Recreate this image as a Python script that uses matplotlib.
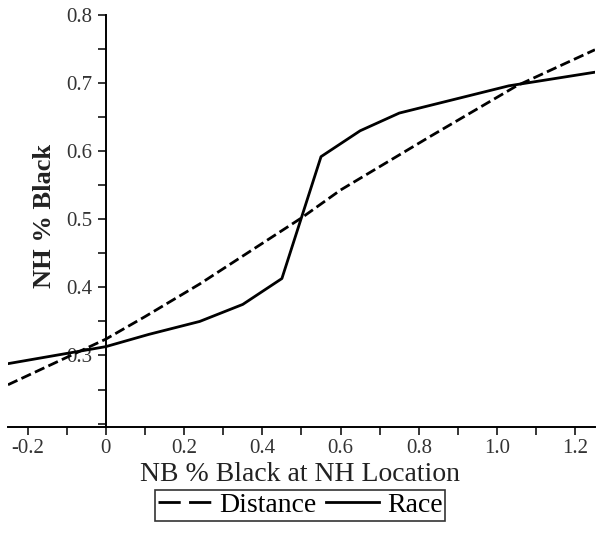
import numpy as np
import matplotlib.pyplot as plt
from matplotlib.lines import Line2D

plt.rcParams['font.family'] = ['Liberation Serif', 'DejaVu Serif']
plt.rcParams['lines.scale_dashes'] = False

# Distance curve
dist_x = [-0.25, 0.0, 0.1, 0.24, 0.5, 0.6, 0.83, 1.05, 1.25]
dist_y = [0.257, 0.324, 0.357, 0.405, 0.502, 0.543, 0.622, 0.696, 0.749]

# Race curve
race_x = [-0.25, 0.0, 0.11, 0.24, 0.35, 0.45, 0.55, 0.65, 0.75, 1.03, 1.25]
race_y = [0.288, 0.313, 0.331, 0.350, 0.375, 0.413, 0.592, 0.630, 0.656, 0.696, 0.716]

x_ticks = [-0.2, 0, 0.2, 0.4, 0.6, 0.8, 1.0, 1.2]
x_labels = ['-0.2', '0', '0.2', '0.4', '0.6', '0.8', '1.0', '1.2']
y_ticks = [0.3, 0.4, 0.5, 0.6, 0.7, 0.8]
y_labels = ['0.3', '0.4', '0.5', '0.6', '0.7', '0.8']

fig = plt.figure(figsize=(6.04, 5.34), dpi=100)
ax = fig.add_axes([0.0132, 0.2004, 0.9718, 0.7715])

ax.plot(dist_x, dist_y, color='black', lw=2.0, dashes=(7.5, 3.2))
ax.plot(race_x, race_y, color='black', lw=2.0)

ax.set_xlim(-0.25, 1.25)
ax.set_ylim(0.195, 0.8)

ax.spines['top'].set_visible(False)
ax.spines['right'].set_visible(False)
ax.spines['left'].set_position(('data', 0))
ax.spines['left'].set_linewidth(1.4)
ax.spines['bottom'].set_linewidth(1.4)

ax.set_xticks(x_ticks)
ax.set_xticklabels(x_labels)
ax.set_xticks(np.arange(-0.2, 1.25, 0.1), minor=True)
ax.set_yticks(y_ticks)
ax.set_yticklabels(y_labels)
ax.set_yticks(np.arange(0.2, 0.81, 0.05), minor=True)
ax.tick_params(which='both', direction='out', width=1.1, length=6, colors='black',
               labelcolor='#333333', labelsize=15)
ax.tick_params(axis='x', pad=3)

fig.text(0.497, 0.112, 'NB % Black at NH Location', ha='center', va='center',
         fontsize=20, color='#222222')
fig.text(0.073, 0.595, 'NH % Black', ha='center', va='center',
         rotation=90, fontsize=19, fontweight='bold', color='#222222')

handles = [Line2D([], [], color='black', lw=2.0, dashes=(16, 6)),
           Line2D([], [], color='black', lw=2.0)]
leg = fig.legend(handles, ['Distance', 'Race'], loc='center',
                 bbox_to_anchor=(0.497, 0.0534), ncol=2,
                 fontsize=20, frameon=True, fancybox=False, handlelength=1.9,
                 columnspacing=0.35, handletextpad=0.3, borderpad=0.1,
                 borderaxespad=0)
leg.get_frame().set_edgecolor('black')
leg.get_frame().set_linewidth(1.2)

plt.savefig('out.png', dpi=100)
